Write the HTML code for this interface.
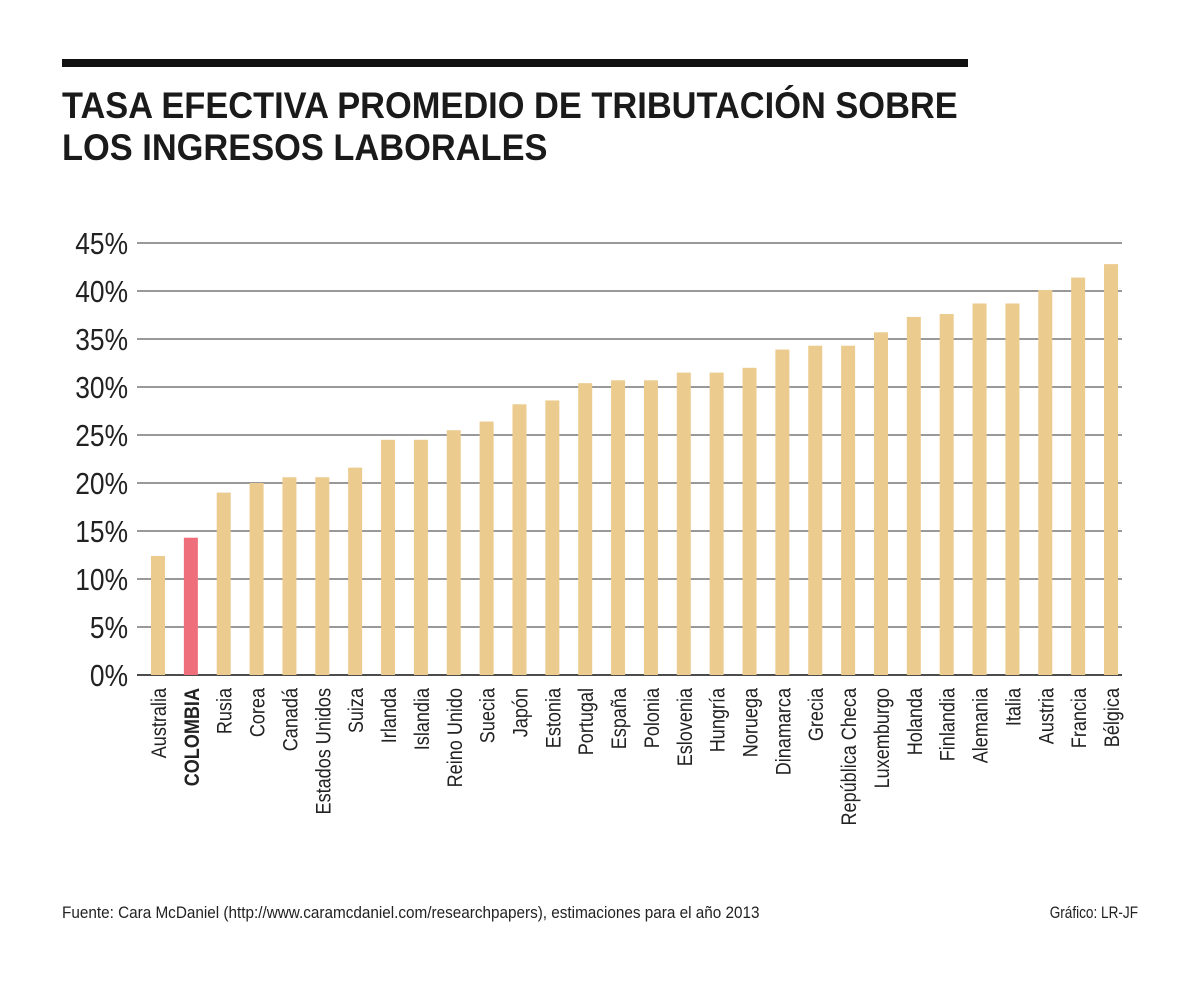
<!DOCTYPE html>
<html><head><meta charset="utf-8"><style>
body{margin:0;background:#fff;width:1200px;height:979px;overflow:hidden;font-family:"Liberation Sans",sans-serif}
</style></head><body>
<svg width="1200" height="979">
<rect x="62" y="59" width="906" height="8" fill="#111"/>
<g font-weight="bold" font-size="37" fill="#1a1a1a">
<text x="62" y="118" transform="translate(62 0) scale(0.93 1) translate(-62 0)">TASA EFECTIVA PROMEDIO DE TRIBUTACIÓN SOBRE</text>
<text x="62" y="160" transform="translate(62 0) scale(0.93 1) translate(-62 0)">LOS INGRESOS LABORALES</text>
</g>
<g id="grid"></g><g id="bars"></g><g id="labels"></g>
<text x="62" y="918" font-size="17" fill="#222" transform="translate(62 0) scale(0.9 1) translate(-62 0)">Fuente: Cara McDaniel (http://www.caramcdaniel.com/researchpapers), estimaciones para el año 2013</text>
<text x="1138" y="918" font-size="17" fill="#222" text-anchor="end" transform="translate(1138 0) scale(0.8 1) translate(-1138 0)">Gráfico: LR-JF</text>
</svg>
<script>
const categories=["Australia","COLOMBIA","Rusia","Corea","Canadá","Estados Unidos","Suiza","Irlanda","Islandia","Reino Unido","Suecia","Japón","Estonia","Portugal","España","Polonia","Eslovenia","Hungría","Noruega","Dinamarca","Grecia","República Checa","Luxemburgo","Holanda","Finlandia","Alemania","Italia","Austria","Francia","Bélgica"];
const values=[12.4,14.3,19.0,20.0,20.6,20.6,21.6,24.5,24.5,25.5,26.4,28.2,28.6,30.4,30.7,30.7,31.5,31.5,32.0,33.9,34.3,34.3,35.7,37.3,37.6,38.7,38.7,40.1,41.4,42.8];
const ticks=[0,5,10,15,20,25,30,35,40,45];
const NS="http://www.w3.org/2000/svg";
const y=v=>675-v*9.6;
const x=i=>158+i*((1111-158)/(categories.length-1));
function mk(t,a,p){const e=document.createElementNS(NS,t);for(const k in a)e.setAttribute(k,a[k]);p.appendChild(e);return e;}
const g=document.getElementById('grid');
ticks.forEach(t=>{
 const l=mk('line',{x1:137,x2:1122,y1:y(t),y2:y(t),stroke:t===0?'#111':'#333','stroke-width':t===0?1.5:1},g);
 
 
 const tx=mk('text',{x:128,y:y(t)+11,'font-size':31,'text-anchor':'end',fill:'#222',transform:`translate(128 0) scale(0.85 1) translate(-128 0)`},g);
 tx.textContent=t+'%';
 
 
});
const b=document.getElementById('bars'),lb=document.getElementById('labels');
categories.forEach((c,i)=>{
 const r=mk('rect',{x:x(i)-7,y:y(values[i]),width:14,height:675-y(values[i]),fill:c==='COLOMBIA'?'#ee6f7b':'#eccb8e'},b);
 
 
 const t=mk('text',{x:0,y:0,'font-size':21,'text-anchor':'end',fill:'#222','font-weight':c==='COLOMBIA'?'bold':'normal',transform:`translate(${x(i)+8} 688) rotate(-90) scale(0.86 1)`},lb);
 t.textContent=c;
 
 
});
</script>
</body></html>
